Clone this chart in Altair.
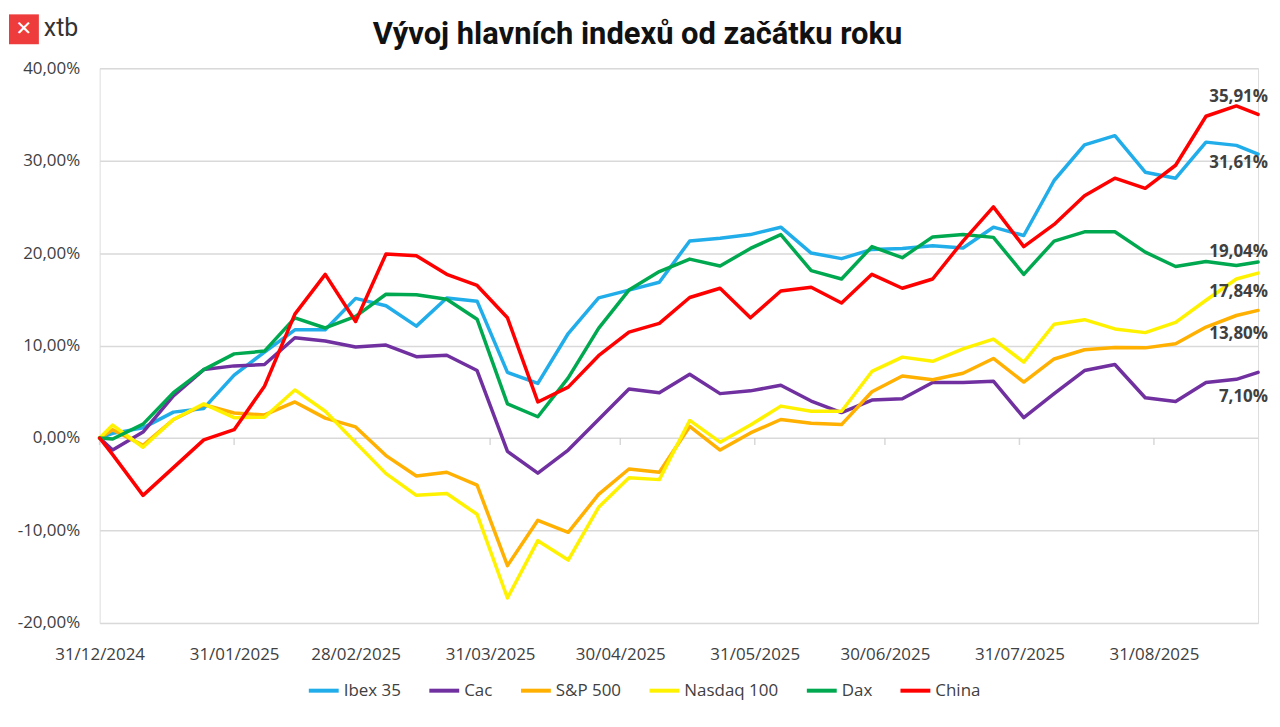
import altair as alt
import pandas as pd

# ---------------- data ----------------
dates = ["2024-12-31", "2025-01-03", "2025-01-10", "2025-01-17", "2025-01-24", "2025-01-31",
         "2025-02-07", "2025-02-14", "2025-02-21", "2025-02-28", "2025-03-07", "2025-03-14",
         "2025-03-21", "2025-03-28", "2025-04-04", "2025-04-11", "2025-04-18", "2025-04-25",
         "2025-05-02", "2025-05-09", "2025-05-16", "2025-05-23", "2025-05-30", "2025-06-06",
         "2025-06-13", "2025-06-20", "2025-06-27", "2025-07-04", "2025-07-11", "2025-07-18",
         "2025-07-25", "2025-08-01", "2025-08-08", "2025-08-15", "2025-08-22", "2025-08-29",
         "2025-09-05", "2025-09-12", "2025-09-19", "2025-09-24"]

ibex = [0, 0.5, 1.1, 2.8, 3.2, 6.8, 9.3, 11.7, 11.7, 15.1,
        14.3, 12.1, 15.15, 14.8, 7.1, 5.9, 11.3, 15.15, 16.0, 16.85,
        21.3, 21.6, 22.0, 22.8, 20.0, 19.4, 20.4, 20.5, 20.8, 20.55,
        22.8, 21.9, 27.85, 31.7, 32.7, 28.75, 28.1, 32.0, 31.65, 30.7]
cac = [0, -1.3, 0.65, 4.55, 7.4, 7.8, 7.95, 10.85, 10.5, 9.85,
       10.05, 8.8, 8.95, 7.3, -1.45, -3.8, -1.3, 2.0, 5.3, 4.9,
       6.9, 4.8, 5.1, 5.7, 4.0, 2.75, 4.1, 4.25, 6.0, 6.0,
       6.15, 2.2, 4.8, 7.3, 7.95, 4.35, 3.95, 6.0, 6.35, 7.1]
sp500 = [0, 0.9, -0.8, 2.0, 3.6, 2.7, 2.5, 3.9, 2.15, 1.2,
         -1.9, -4.1, -3.7, -5.1, -13.8, -8.9, -10.2, -6.1, -3.35, -3.7,
         1.25, -1.3, 0.55, 2.0, 1.6, 1.45, 5.0, 6.7, 6.3, 7.0,
         8.6, 6.05, 8.55, 9.55, 9.8, 9.75, 10.2, 12.0, 13.25, 13.8]
nasdaq = [0, 1.4, -1.0, 2.0, 3.7, 2.2, 2.25, 5.2, 2.9, -0.5,
          -3.85, -6.2, -6.0, -8.25, -17.3, -11.1, -13.2, -7.5, -4.3, -4.5,
          1.9, -0.45, 1.4, 3.45, 2.9, 2.9, 7.2, 8.75, 8.3, 9.65,
          10.7, 8.2, 12.3, 12.8, 11.8, 11.4, 12.5, 14.9, 17.2, 17.84]
dax = [0, -0.1, 1.5, 4.9, 7.4, 9.1, 9.4, 13.0, 11.9, 13.15,
       15.55, 15.5, 15.0, 12.85, 3.7, 2.3, 6.5, 11.85, 16.0, 18.0,
       19.35, 18.6, 20.5, 22.0, 18.1, 17.2, 20.7, 19.5, 21.75, 22.0,
       21.7, 17.7, 21.3, 22.3, 22.3, 20.1, 18.55, 19.1, 18.65, 19.04]
china = [0, -1.8, -6.2, -3.2, -0.2, 0.9, 5.6, 13.4, 17.7, 12.6,
         19.9, 19.7, 17.7, 16.5, 13.0, 3.9, 5.5, 8.9, 11.45, 12.4,
         15.2, 16.2, 13.0, 15.9, 16.3, 14.6, 17.7, 16.2, 17.2, 21.3,
         25.0, 20.7, 23.1, 26.2, 28.1, 27.0, 29.5, 34.8, 35.91, 35.0]

series_names = ["Ibex 35", "Cac", "S&P 500", "Nasdaq 100", "Dax", "China"]
series_values = [ibex, cac, sp500, nasdaq, dax, china]
series_colors = ["#21ADE9", "#7030A0", "#FFB000", "#FFF200", "#00A94F", "#FF0000"]

end_label_series = ["China", "Ibex 35", "Dax", "Nasdaq 100", "S&P 500", "Cac"]
end_label_values = [35.91, 31.61, 19.04, 17.84, 13.80, 7.10]
end_label_texts = ["35,91%", "31,61%", "19,04%", "17,84%", "13,80%", "7,10%"]
end_label_dy = [-9, 17, -10, 19, 24, 25]

x_tick_dates = ["2024-12-31", "2025-01-31", "2025-02-28", "2025-03-31", "2025-04-30",
                "2025-05-31", "2025-06-30", "2025-07-31", "2025-08-31"]
y_ticks = [-20, -10, 0, 10, 20, 30, 40]
title_text = "Vývoj hlavních indexů od začátku roku"

# ---------------- build ----------------
rows = []
for name, vals in zip(series_names, series_values):
    for d, v in zip(dates, vals):
        rows.append({"date": d + "T00:00:00", "series": name, "value": v})
df = pd.DataFrame(rows)


def dt(s):
    y, m, d = s.split("-")
    return alt.DateTime(year=int(y), month=int(m), date=int(d))


x_domain = [dt(dates[0]), dt(dates[-1])]
W, H = 1163, 557
FONT = "Open Sans"
TXT = "#404040"

x_enc = alt.X("date:T", scale=alt.Scale(domain=x_domain, nice=False),
              axis=alt.Axis(values=[dt(s) for s in x_tick_dates], format="%d/%m/%Y",
                            grid=False, domain=False, ticks=False, labelPadding=24,
                            labelFontSize=17, labelColor=TXT, labelFont=FONT,
                            labelFlush=False, labelOverlap=False, title=None))
y_enc = alt.Y("value:Q", scale=alt.Scale(domain=[-20, 40], nice=False),
              axis=alt.Axis(values=y_ticks,
                            labelExpr="(datum.value < 0 ? '-' : '') + replace(format(abs(datum.value), '.2f'), '.', ',') + '%'",
                            grid=True, gridColor="#D9D9D9", gridWidth=1.5,
                            domain=False, ticks=False, labelPadding=20,
                            labelFontSize=17, labelColor=TXT, labelFont=FONT, title=None))
color_enc = alt.Color("series:N",
                      scale=alt.Scale(domain=series_names, range=series_colors),
                      sort=series_names,
                      legend=alt.Legend(orient="none", legendX=208, legendY=608,
                                        direction="horizontal", title=None,
                                        symbolType="stroke", symbolStrokeWidth=4,
                                        symbolSize=900, labelFontSize=17,
                                        labelFont=FONT, labelColor=TXT,
                                        labelOffset=3, columnPadding=20))

base = alt.Chart(df)
layers = []

# tick marks hanging from the 0% line
tick_df = pd.DataFrame({"date": [s + "T00:00:00" for s in x_tick_dates]})
ticks = alt.Chart(tick_df).mark_tick(orient="vertical", size=7, thickness=1.5,
                                     color="#C8C8C8", yOffset=3.5).encode(
    x=alt.X("date:T"), y=alt.datum(0))

for name in series_names:
    layers.append(
        base.transform_filter(alt.datum.series == name)
        .mark_line(strokeWidth=3.5, strokeJoin="round", strokeCap="round")
        .encode(x=x_enc, y=y_enc, color=color_enc)
    )

lab_df = pd.DataFrame({"series": end_label_series, "value": end_label_values,
                       "text": end_label_texts, "date": dates[-1] + "T00:00:00"})
labels = []
for s, dy in zip(end_label_series, end_label_dy):
    labels.append(
        alt.Chart(lab_df).transform_filter(alt.datum.series == s)
        .mark_text(align="right", baseline="middle", dx=10, dy=dy, fontSize=17,
                   fontWeight="bold", font=FONT, color=TXT)
        .encode(x="date:T", y="value:Q", text="text:N")
    )

ann = pd.DataFrame({"t": [title_text]})
title = alt.Chart(ann).mark_text(font="Roboto", fontWeight="bold", fontSize=31,
                                 color="#111111", align="center", baseline="middle").encode(
    x=alt.value(540), y=alt.value(-33), text="t:N")

logo_box = alt.Chart(ann).mark_square(size=900, color="#EE3B3B", opacity=1, filled=True).encode(
    x=alt.value(-76), y=alt.value(-39))
logo_x = alt.Chart(ann).mark_text(text="✕", font="DejaVu Sans", fontWeight="bold",
                                  fontSize=20, color="white", align="center",
                                  baseline="middle").encode(x=alt.value(-76), y=alt.value(-39))
logo_txt = alt.Chart(ann).mark_text(text="xtb", font="Roboto", fontSize=25, color="#333333",
                                    align="left", baseline="middle").encode(
    x=alt.value(-56), y=alt.value(-40))

chart = alt.layer(ticks, *layers, *labels, title, logo_box, logo_x, logo_txt).properties(
    width=W, height=H,
    autosize=alt.AutoSizeParams(type="none"),
    padding={"left": 92, "top": 59, "right": 14, "bottom": 85},
).configure_view(stroke=None).configure(font=FONT)

chart.save("out.html", embed_options={"renderer": "svg", "actions": False})
